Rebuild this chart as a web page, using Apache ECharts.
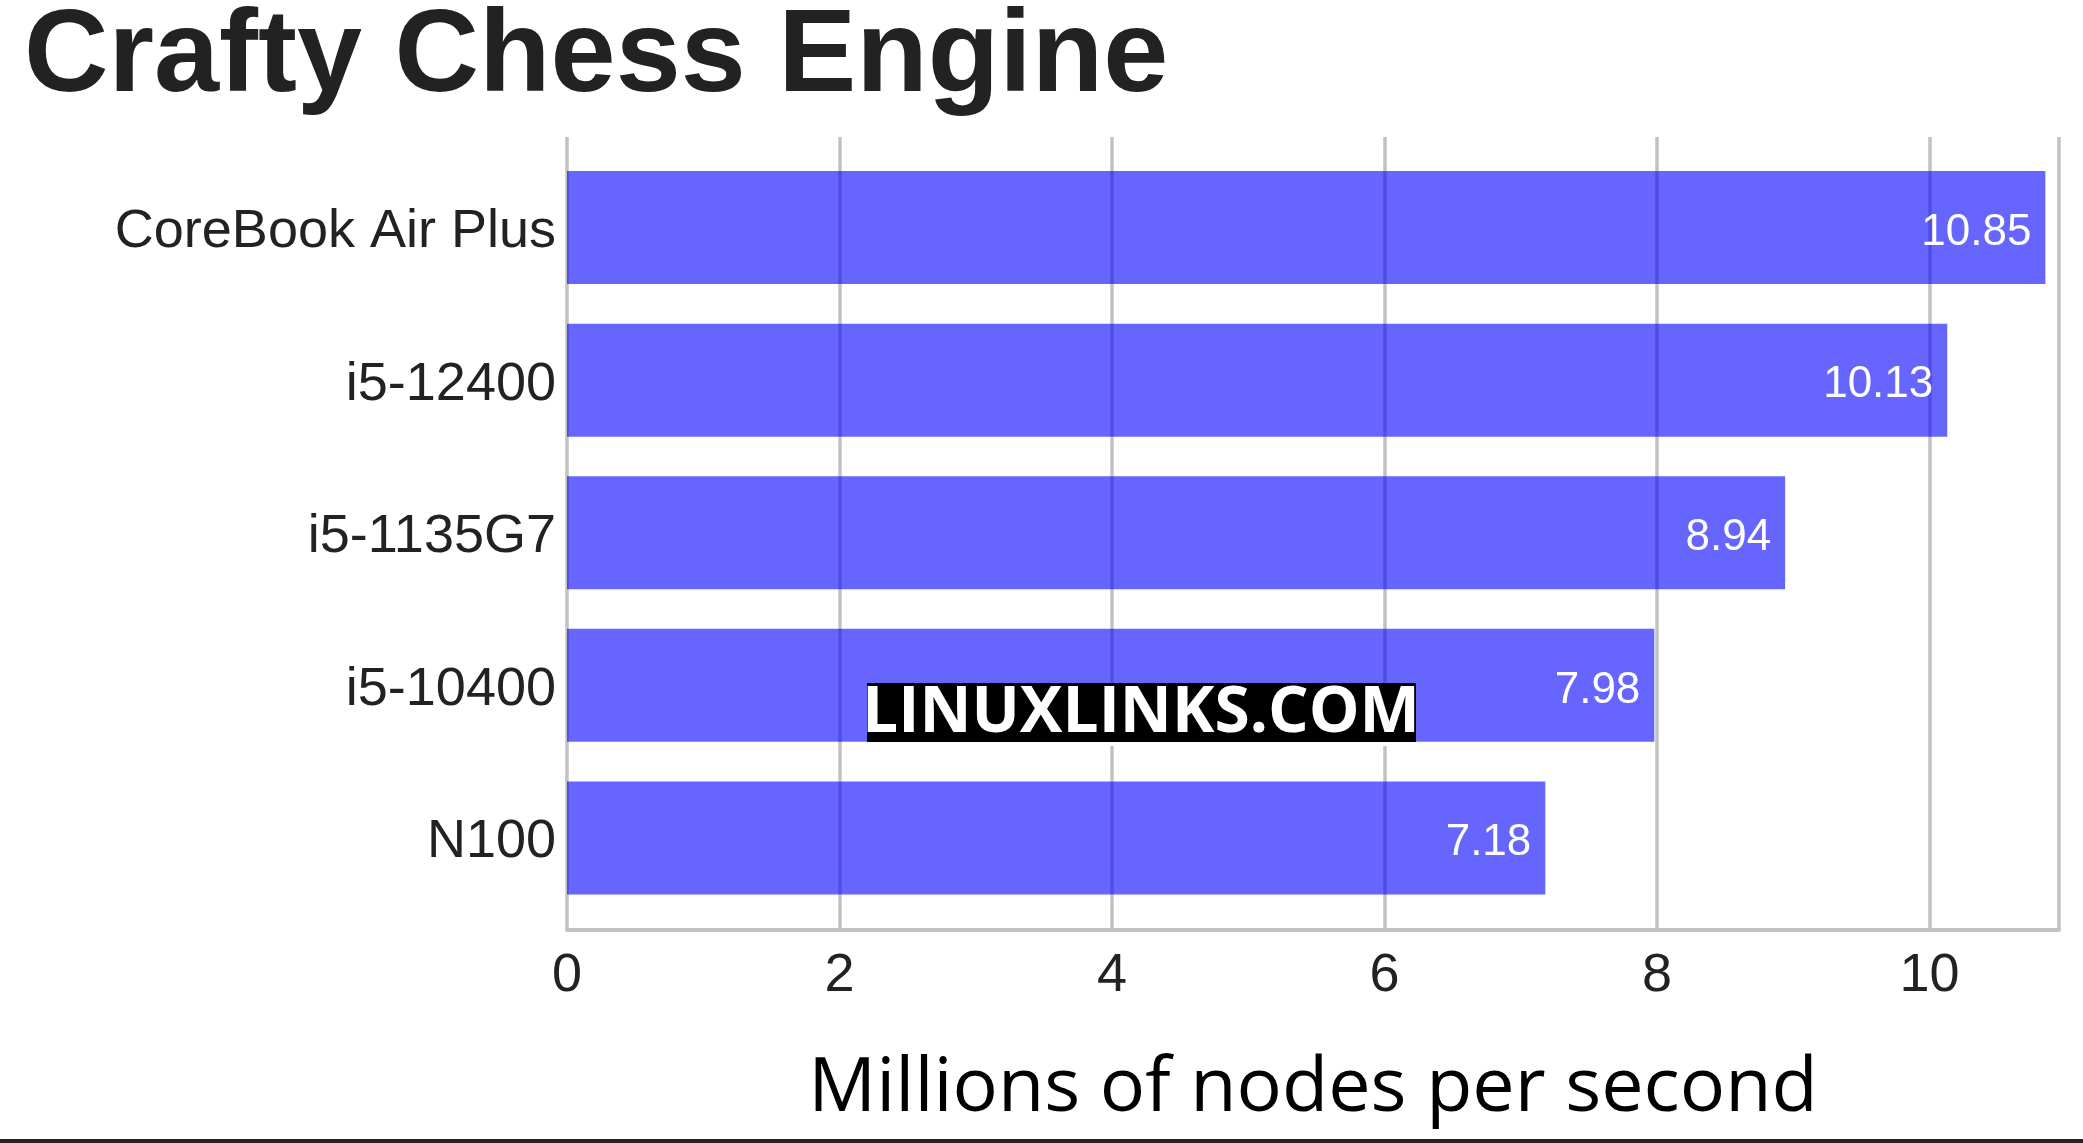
<!DOCTYPE html>
<html>
<head>
<meta charset="utf-8">
<script src="https://cdn.jsdelivr.net/npm/echarts@6/dist/echarts.min.js"></script>
<style>
html,body{margin:0;padding:0;background:#fff;}
#chart{width:2083px;height:1143px;}
</style>
</head>
<body>
<div id="chart"></div>
<script>
const titleText = 'Crafty Chess Engine';
const categories = ['N100', 'i5-10400', 'i5-1135G7', 'i5-12400', 'CoreBook Air Plus'];
const values = [7.18, 7.98, 8.94, 10.13, 10.85];
const tickLabels = [0, 2, 4, 6, 8, 10];
const axisTitle = 'Millions of nodes per second';
const watermark = 'LINUXLINKS.COM';

const chart = echarts.init(document.getElementById('chart'), null, {renderer: 'canvas'});
const L = 567, W = 1492, AXMAX = 10.95;
const option = {
  animation: false,
  backgroundColor: '#ffffff',
  title: {
    text: titleText,
    left: 24, top: 0, padding: 0,
    textStyle: {fontFamily: 'Liberation Sans', fontWeight: 'bold', fontSize: 117, color: '#222222'}
  },
  grid: [
    {left: L, width: W, top: 137, bottom: 1143 - 930, containLabel: false},
    {left: L, width: W, top: 151.2, bottom: 1143 - 914.3, containLabel: false}
  ],
  xAxis: [
    {
      type: 'value', gridIndex: 0, min: 0, max: AXMAX, interval: 2,
      axisLine: {show: true, lineStyle: {color: '#c2c2c2', width: 4}},
      axisTick: {show: false},
      splitLine: {show: true, lineStyle: {color: '#c2c2c2', width: 3.5}},
      axisLabel: {
        margin: 19, fontFamily: 'Liberation Sans', fontSize: 54, color: '#222222',
        formatter: function (v) { return tickLabels.indexOf(v) >= 0 ? String(v) : ''; },
        showMaxLabel: false
      },
      name: axisTitle, nameLocation: 'middle', nameGap: 121,
      nameTextStyle: {fontFamily: 'Open Sans', fontSize: 75.5, color: '#000000'}
    },
    {
      type: 'value', gridIndex: 1, min: 0, max: AXMAX,
      show: false, splitLine: {show: false}
    }
  ],
  yAxis: [
    {type: 'value', gridIndex: 0, show: false, splitLine: {show: false}},
    {
      type: 'category', gridIndex: 1, data: categories,
      axisLine: {show: false}, axisTick: {show: false}, splitLine: {show: false},
      axisLabel: {
        margin: 11, fontFamily: 'Liberation Sans', fontSize: 54, color: '#222222',
        verticalAlign: 'top', lineHeight: 9
      }
    }
  ],
  series: [{
    type: 'bar', xAxisIndex: 1, yAxisIndex: 1,
    data: values, barWidth: 113,
    itemStyle: {color: 'rgba(0,0,255,0.6)'},
    label: {
      show: true, position: 'insideRight', distance: 14, offset: [0, 5],
      fontFamily: 'Liberation Sans', fontSize: 44, color: '#ffffff',
      formatter: function (p) { return p.value.toFixed(2); }
    }
  }],
  graphic: [
    {type: 'rect', shape: {x: 867, y: 683, width: 549, height: 59}, style: {fill: '#000000'}, z: 10},
    {type: 'rect', shape: {x: 867, y: 742, width: 549, height: 4}, style: {fill: '#ffffff'}, z: 10},
    {type: 'text', x: 1141, y: 714, z: 11,
      style: {text: watermark, fill: '#ffffff', font: 'bold 64px "Open Sans"', align: 'center', verticalAlign: 'middle'}},
    {type: 'rect', shape: {x: 0, y: 1139, width: 2083, height: 4}, style: {fill: '#222222'}, z: 10}
  ]
};
chart.setOption(option);
</script>
</body>
</html>
